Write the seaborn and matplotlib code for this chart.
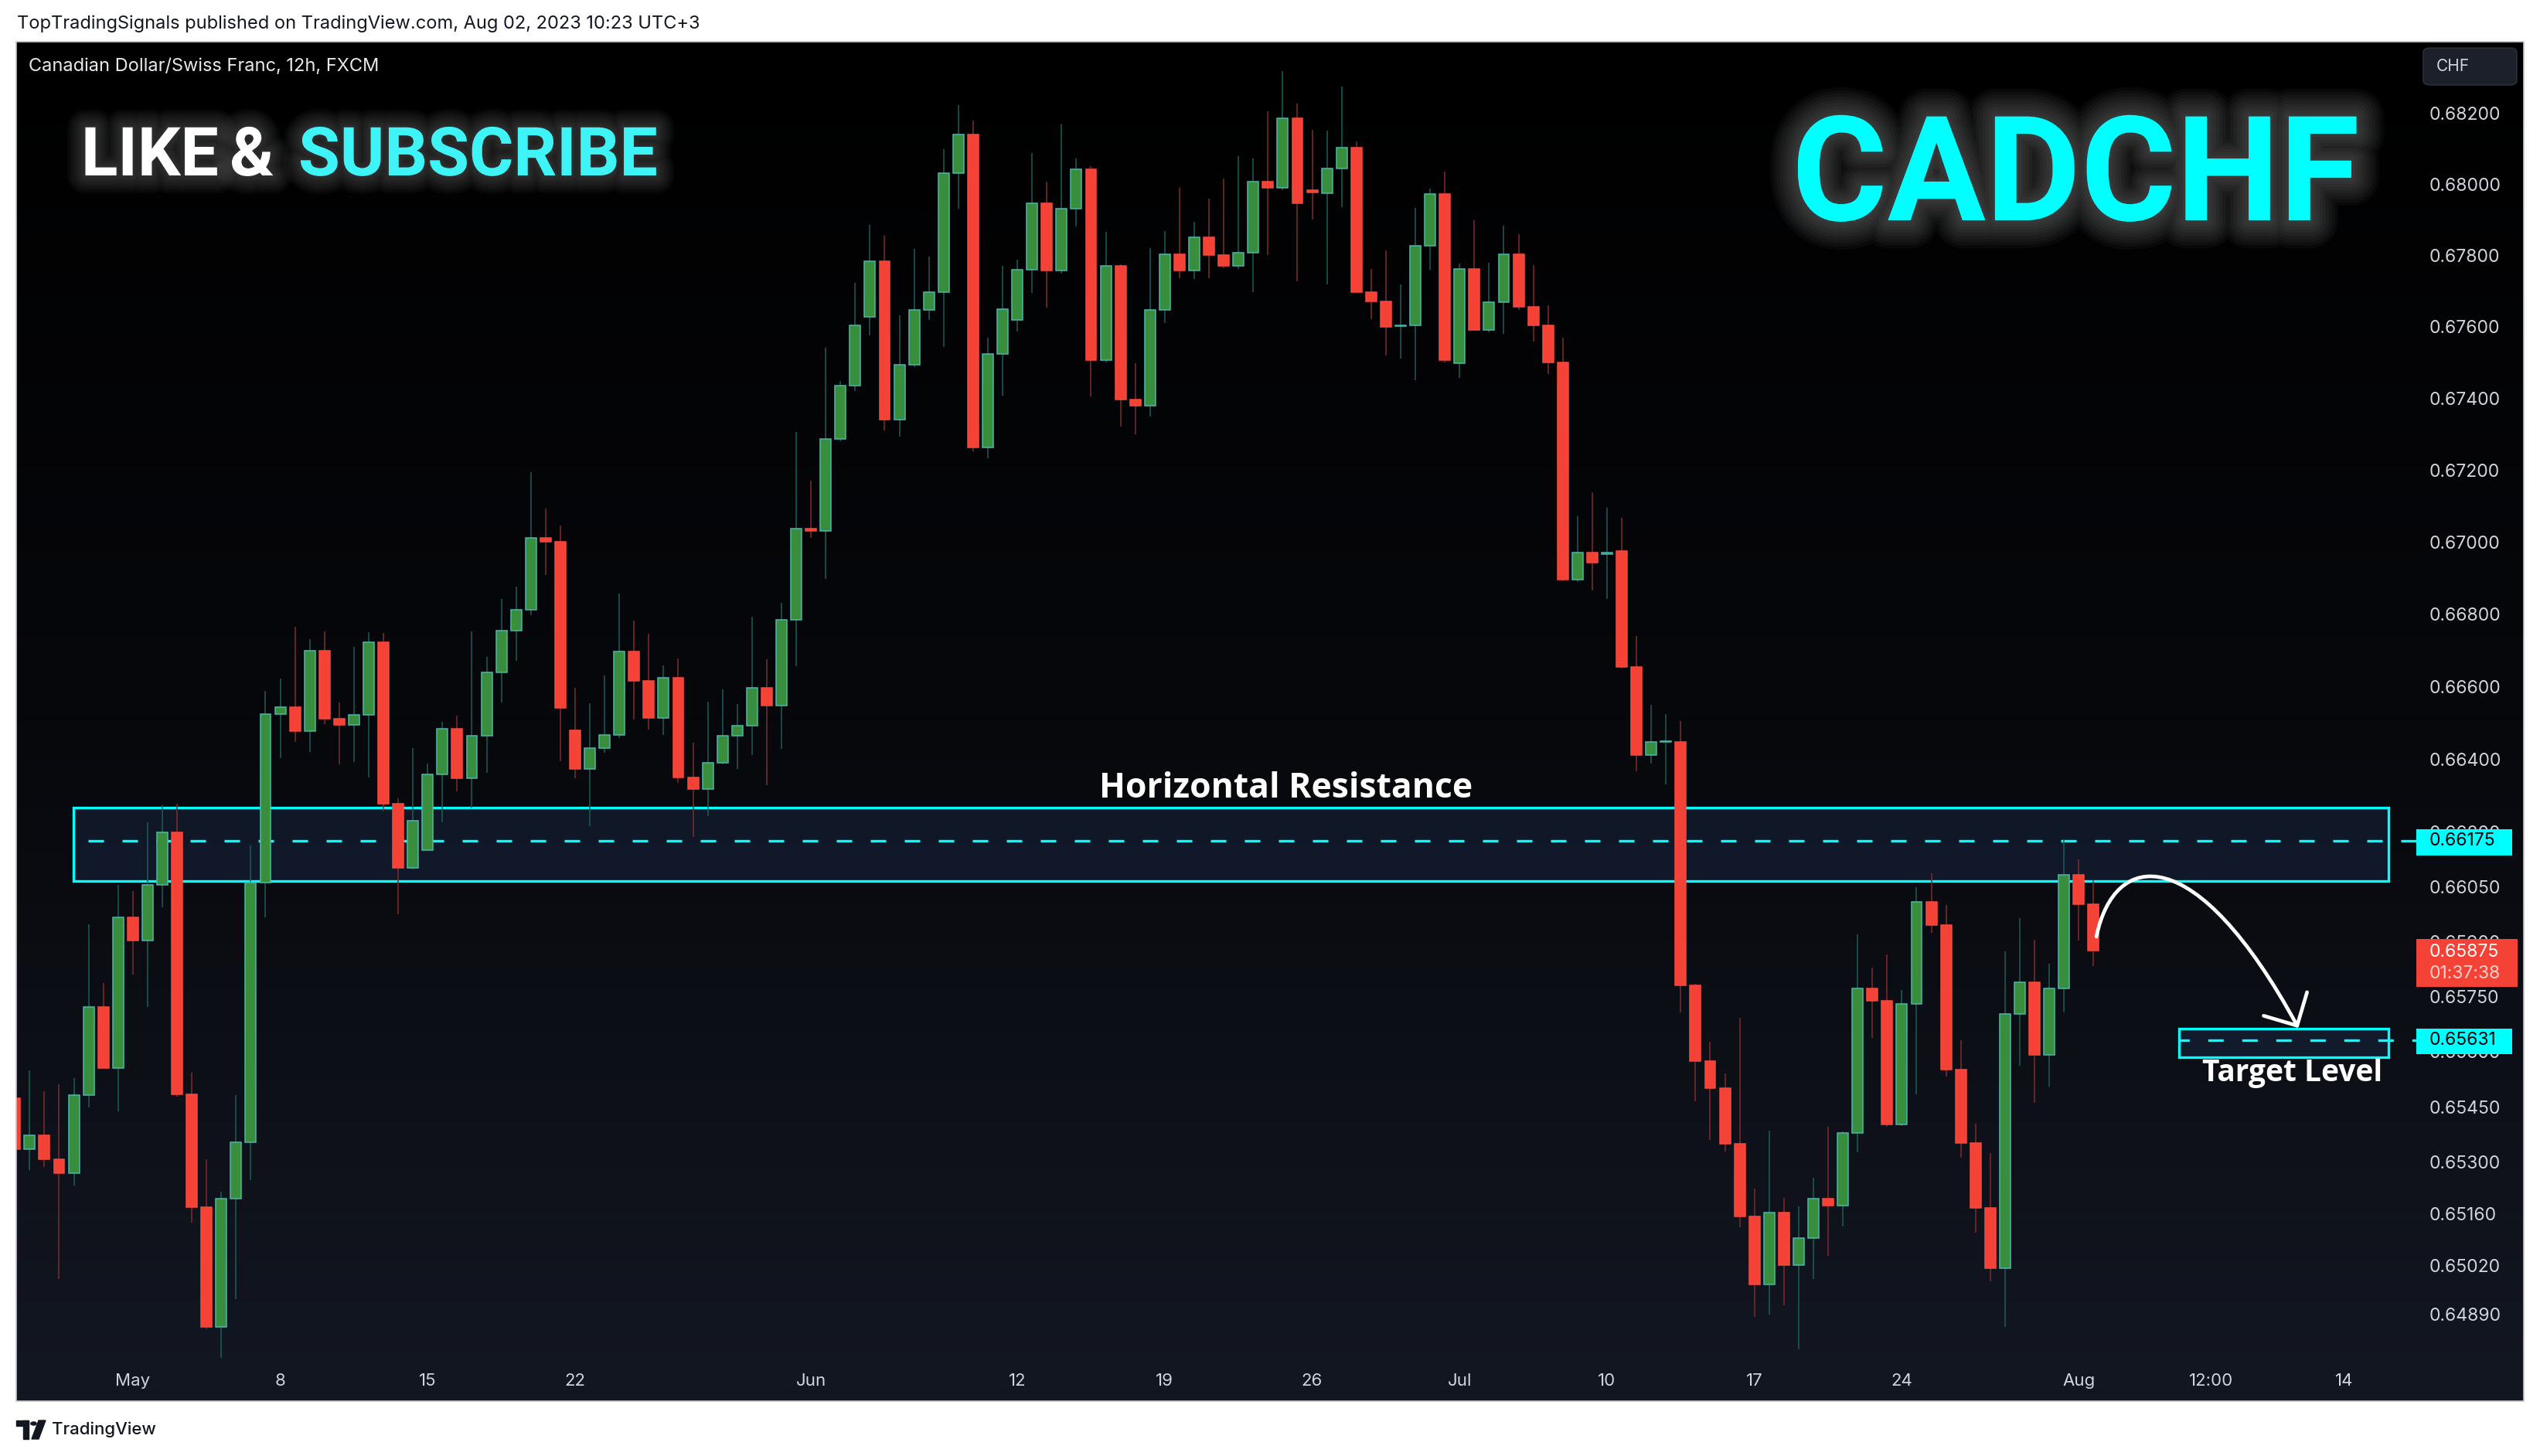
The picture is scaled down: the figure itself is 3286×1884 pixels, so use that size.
import numpy as np
import matplotlib
matplotlib.use("Agg")
import matplotlib.pyplot as plt
import matplotlib.ticker as mticker
import matplotlib.patheffects as pe
from matplotlib.colors import LinearSegmentedColormap
from matplotlib.patches import Rectangle, FancyArrowPatch, FancyBboxPatch, Circle, Polygon
from matplotlib.path import Path
import seaborn as sns

# CADCHF 12h candles (index 0 = Apr 25, index 141 = Aug 1 12:00)
opens = [0.65473, 0.65334, 0.65373, 0.65308, 0.65270, 0.65482, 0.65720, 0.65556, 0.65966, 0.65903,
         0.66054, 0.66198, 0.65484, 0.65178, 0.64856, 0.65201, 0.65354, 0.66061, 0.66524, 0.66543,
         0.66476, 0.66698, 0.66510, 0.66493, 0.66521, 0.66722, 0.66278, 0.66101, 0.66149, 0.66358,
         0.66483, 0.66348, 0.66465, 0.66638, 0.66754, 0.66813, 0.67012, 0.67000, 0.66479, 0.66372,
         0.66430, 0.66466, 0.66696, 0.66616, 0.66514, 0.66624, 0.66350, 0.66318, 0.66389, 0.66465,
         0.66491, 0.66597, 0.66548, 0.66784, 0.67038, 0.67030, 0.67286, 0.67435, 0.67628, 0.67785,
         0.67340, 0.67493, 0.67648, 0.67698, 0.68033, 0.68140, 0.67262, 0.67523, 0.67619, 0.67760,
         0.67946, 0.67757, 0.67931, 0.68042, 0.67507, 0.67770, 0.67396, 0.67379, 0.67647, 0.67803,
         0.67759, 0.67851, 0.67801, 0.67770, 0.67807, 0.68007, 0.67991, 0.68186, 0.67984, 0.67976,
         0.68046, 0.68105, 0.67698, 0.67672, 0.67601, 0.67605, 0.67827, 0.67973, 0.67497, 0.67763,
         0.67591, 0.67668, 0.67803, 0.67657, 0.67605, 0.67500, 0.66896, 0.66971, 0.66966, 0.66974,
         0.66653, 0.66411, 0.66446, 0.66448, 0.65779, 0.65574, 0.65500, 0.65349, 0.65153, 0.64970,
         0.65164, 0.65022, 0.65094, 0.65201, 0.65182, 0.65378, 0.65771, 0.65737, 0.65402, 0.65730,
         0.66007, 0.65944, 0.65550, 0.65351, 0.65175, 0.65014, 0.65702, 0.65788, 0.65590, 0.65772,
         0.66082, 0.66002]
highs = [0.65496, 0.65549, 0.65492, 0.65510, 0.65528, 0.65947, 0.65786, 0.66055, 0.66038, 0.66226,
         0.66273, 0.66277, 0.65542, 0.65308, 0.65220, 0.65482, 0.66162, 0.66588, 0.66622, 0.66765,
         0.66731, 0.66752, 0.66556, 0.66710, 0.66750, 0.66748, 0.66292, 0.66430, 0.66388, 0.66503,
         0.66520, 0.66752, 0.66682, 0.66842, 0.66876, 0.67194, 0.67093, 0.67046, 0.66596, 0.66554,
         0.66631, 0.66857, 0.66782, 0.66746, 0.66659, 0.66678, 0.66445, 0.66558, 0.66591, 0.66551,
         0.66793, 0.66676, 0.66831, 0.67305, 0.67171, 0.67541, 0.67448, 0.67724, 0.67886, 0.67856,
         0.67632, 0.67819, 0.67797, 0.68100, 0.68224, 0.68181, 0.67569, 0.67771, 0.67789, 0.68089,
         0.68008, 0.68169, 0.68073, 0.68052, 0.67867, 0.67775, 0.67498, 0.67821, 0.67869, 0.67991,
         0.67895, 0.67960, 0.68017, 0.68080, 0.68073, 0.68207, 0.68320, 0.68228, 0.68154, 0.68152,
         0.68276, 0.68121, 0.67762, 0.67814, 0.67719, 0.67934, 0.67989, 0.68037, 0.67777, 0.67899,
         0.67779, 0.67883, 0.67860, 0.67774, 0.67661, 0.67570, 0.67071, 0.67137, 0.67094, 0.67066,
         0.66740, 0.66549, 0.66523, 0.66505, 0.65785, 0.65627, 0.65540, 0.65692, 0.65228, 0.65385,
         0.65204, 0.65181, 0.65258, 0.65395, 0.65383, 0.65920, 0.65828, 0.65865, 0.65768, 0.66048,
         0.66087, 0.65999, 0.65631, 0.65404, 0.65324, 0.65873, 0.65964, 0.65904, 0.65839, 0.66179,
         0.66124, 0.66067]
lows = [0.65308, 0.65278, 0.65286, 0.64985, 0.65237, 0.65449, 0.65553, 0.65438, 0.65809, 0.65720,
        0.65993, 0.65478, 0.65137, 0.64850, 0.64772, 0.64930, 0.65252, 0.65965, 0.66403, 0.66447,
        0.66420, 0.66497, 0.66386, 0.66391, 0.66350, 0.66255, 0.65975, 0.66096, 0.66149, 0.66225,
        0.66312, 0.66265, 0.66361, 0.66556, 0.66670, 0.66796, 0.66909, 0.66394, 0.66348, 0.66216,
        0.66418, 0.66457, 0.66508, 0.66482, 0.66467, 0.66335, 0.66185, 0.66244, 0.66385, 0.66373,
        0.66410, 0.66327, 0.66428, 0.66655, 0.67012, 0.66897, 0.67280, 0.67421, 0.67575, 0.67311,
        0.67292, 0.67488, 0.67620, 0.67543, 0.67931, 0.67252, 0.67232, 0.67408, 0.67586, 0.67696,
        0.67653, 0.67750, 0.67882, 0.67406, 0.67500, 0.67322, 0.67300, 0.67350, 0.67611, 0.67737,
        0.67735, 0.67737, 0.67765, 0.67763, 0.67698, 0.67802, 0.67985, 0.67728, 0.67902, 0.67718,
        0.67937, 0.67695, 0.67622, 0.67520, 0.67510, 0.67450, 0.67760, 0.67501, 0.67458, 0.67588,
        0.67584, 0.67581, 0.67647, 0.67559, 0.67467, 0.66891, 0.66890, 0.66865, 0.66841, 0.66650,
        0.66367, 0.66387, 0.66331, 0.65706, 0.65464, 0.65360, 0.65329, 0.65124, 0.64882, 0.64888,
        0.64913, 0.64796, 0.64985, 0.65047, 0.65125, 0.65326, 0.65637, 0.65395, 0.65398, 0.65484,
        0.65923, 0.65532, 0.65312, 0.65109, 0.64978, 0.64855, 0.65562, 0.65461, 0.65505, 0.65707,
        0.65902, 0.65832]
closes = [0.65334, 0.65373, 0.65308, 0.65270, 0.65482, 0.65720, 0.65556, 0.65966, 0.65903, 0.66054,
          0.66198, 0.65484, 0.65178, 0.64856, 0.65201, 0.65354, 0.66061, 0.66524, 0.66543, 0.66476,
          0.66698, 0.66510, 0.66493, 0.66521, 0.66722, 0.66278, 0.66101, 0.66231, 0.66358, 0.66483,
          0.66348, 0.66465, 0.66638, 0.66754, 0.66813, 0.67012, 0.67000, 0.66540, 0.66372, 0.66430,
          0.66466, 0.66696, 0.66616, 0.66514, 0.66624, 0.66350, 0.66318, 0.66389, 0.66465, 0.66491,
          0.66597, 0.66548, 0.66784, 0.67038, 0.67030, 0.67286, 0.67435, 0.67605, 0.67785, 0.67340,
          0.67493, 0.67648, 0.67698, 0.68033, 0.68140, 0.67262, 0.67523, 0.67650, 0.67760, 0.67946,
          0.67757, 0.67931, 0.68042, 0.67507, 0.67770, 0.67396, 0.67379, 0.67647, 0.67803, 0.67759,
          0.67851, 0.67801, 0.67770, 0.67807, 0.68007, 0.67991, 0.68186, 0.67948, 0.67978, 0.68046,
          0.68105, 0.67698, 0.67672, 0.67599, 0.67605, 0.67827, 0.67973, 0.67506, 0.67763, 0.67591,
          0.67668, 0.67803, 0.67657, 0.67605, 0.67500, 0.66896, 0.66971, 0.66943, 0.66970, 0.66653,
          0.66411, 0.66448, 0.66449, 0.65779, 0.65574, 0.65500, 0.65349, 0.65153, 0.64970, 0.65164,
          0.65022, 0.65094, 0.65201, 0.65182, 0.65378, 0.65771, 0.65737, 0.65402, 0.65730, 0.66007,
          0.65944, 0.65550, 0.65351, 0.65175, 0.65014, 0.65702, 0.65788, 0.65590, 0.65772, 0.66082,
          0.66002, 0.65875]

date_pos = [8, 18, 28, 38, 54, 68, 78, 88, 98, 108, 118, 128, 140, 149, 158]
date_labels = ["May", "8", "15", "22", "Jun", "12", "19", "26", "Jul", "10", "17", "24", "Aug", "12:00", "14"]
price_ticks = [0.682, 0.680, 0.678, 0.676, 0.674, 0.672, 0.670, 0.668, 0.666, 0.664, 0.662,
               0.6605, 0.659, 0.6575, 0.656, 0.6545, 0.653, 0.6516, 0.6502, 0.6489]

resistance = 0.66175
res_top, res_bot = 0.66267, 0.66065
target = 0.65631
tgt_top, tgt_bot = 0.65662, 0.65584
last_price = 0.65875

W, H = 3286, 1884
CYAN = "#00ffff"

sns.set_theme(style="dark")
plt.rcParams["font.family"] = ["Inter", "DejaVu Sans"]
BIG = ["Roboto", "DejaVu Sans"]


def fx(x):
    return x / W


def fy(y):
    return 1 - y / H


fig = plt.figure(figsize=(W / 100, H / 100), dpi=100, facecolor="white")

# dark pane with vertical gradient
bg = fig.add_axes([fx(21), fy(1813), fx(3265) - fx(21), fy(54) - fy(1813)])
cmap = LinearSegmentedColormap.from_list("pane", ["#000000", "#07080c", "#131722"])
bg.imshow(np.linspace(0, 1, 400).reshape(-1, 1), cmap=cmap, aspect="auto")
bg.axis("off")

ax = fig.add_axes([fx(21), fy(1760), fx(3126) - fx(21), fy(54) - fy(1760)])
ax.set_facecolor("none")
ax.set_yscale("log")
ax.grid(False)
for s in ax.spines.values():
    s.set_visible(False)

x = np.arange(len(opens))
o, h, l, c = map(np.array, (opens, highs, lows, closes))
up = c >= o
body_lo = np.minimum(o, c)
body_h = np.maximum(np.abs(c - o), 0.00003)

ax.vlines(x[up], l[up], h[up], color="#1b5e58", lw=1.1, zorder=3)
ax.vlines(x[~up], l[~up], h[~up], color="#7e2c2c", lw=1.1, zorder=3)
ax.bar(x[up], body_h[up], bottom=body_lo[up], width=0.73, color="#388e3c",
       edgecolor="#4db6ac", linewidth=1.1, zorder=4)
ax.bar(x[~up], body_h[~up], bottom=body_lo[~up], width=0.73, color="#f44336",
       edgecolor="#f6493c", linewidth=1.1, zorder=4)

x_end = 162.9
ax.set_xlim(0.09, x_end)
ax.set_ylim(0.647661, 0.684034)

# resistance zone
ax.add_patch(Rectangle((3.97, res_bot), 161.0 - 3.97, res_top - res_bot, facecolor="#1a2a48",
                       alpha=0.45, edgecolor="none", zorder=1))
ax.add_patch(Rectangle((3.97, res_bot), 161.0 - 3.97, res_top - res_bot, fill=False,
                       edgecolor=CYAN, lw=2.4, zorder=2))
ax.plot([3.97, x_end], [resistance, resistance], color=CYAN, lw=2.4, ls=(7.5, (6, 7.2)), zorder=2)
ax.text(86.2, 0.66318, "Horizontal Resistance", ha="center", va="center", color="white",
        fontsize=32, fontweight="bold", family=["Open Sans", "DejaVu Sans"], zorder=6)

# target zone
ax.add_patch(Rectangle((146.8, tgt_bot), 161.0 - 146.8, tgt_top - tgt_bot, facecolor="#1a2a48",
                       alpha=0.45, edgecolor="none", zorder=1))
ax.add_patch(Rectangle((146.8, tgt_bot), 161.0 - 146.8, tgt_top - tgt_bot, fill=False,
                       edgecolor=CYAN, lw=2.4, zorder=2))
ax.plot([146.8, x_end], [target, target], color=CYAN, lw=2.4, ls=(2, (6, 7.2)), zorder=2)
ax.text(154.5, 0.65542, "Target Level", ha="center", va="center", color="white",
        fontsize=28, fontweight="bold", family=["Open Sans", "DejaVu Sans"], zorder=6)

# projected move arrow
arc = Path([(141.2, 0.65913), (142.4, 0.66150), (147.9, 0.66182), (154.9, 0.65664)],
           [Path.MOVETO, Path.CURVE4, Path.CURVE4, Path.CURVE4])
ax.add_patch(FancyArrowPatch(path=arc, arrowstyle="->,head_length=23,head_width=23",
                             mutation_scale=1, color="white", lw=3.4, zorder=7,
                             capstyle="round", joinstyle="round"))

# axes ticks
ax.set_xticks(date_pos, date_labels)
ax.tick_params(axis="x", length=0, pad=12, labelsize=16, labelcolor="#d1d4dc")
ax.yaxis.tick_right()
ax.yaxis.set_major_locator(mticker.FixedLocator(price_ticks))
ax.yaxis.set_major_formatter(mticker.FixedFormatter([f"{t:.5f}" for t in price_ticks]))
ax.yaxis.set_minor_locator(mticker.NullLocator())
ax.tick_params(axis="y", which="both", length=0, pad=12, labelsize=16.5, labelcolor="#d1d4dc")

# price scale labels
yt = ax.get_yaxis_transform()
aw = 3126 - 21
for price, top, bot in [(resistance, 0.66207, 0.66135), (target, 0.65662, 0.65593)]:
    ax.add_patch(Rectangle((1.0, bot), 124 / aw, top - bot, transform=yt, facecolor=CYAN,
                           edgecolor="none", clip_on=False, zorder=8))
    ax.text(1.0 + 17 / aw, price, f"{price:.5f}", transform=yt, ha="left", va="center",
            fontsize=16.5, color="black", zorder=9, clip_on=False)
ax.add_patch(Rectangle((1.0, 0.65776), 131 / aw, 0.65907 - 0.65776, transform=yt,
                       facecolor="#f44336", edgecolor="none", clip_on=False, zorder=8))
ax.text(1.0 + 17 / aw, 0.65870, f"{last_price:.5f}", transform=yt, ha="left", va="center",
        fontsize=16.5, color="white", zorder=9, clip_on=False)
ax.text(1.0 + 17 / aw, 0.65811, "01:37:38", transform=yt, ha="left", va="center",
        fontsize=16.5, color="#ffd2cd", zorder=9, clip_on=False)


# headline texts with a soft grey glow
def glow(max_w, steps, alpha):
    widths = np.linspace(max_w, max_w / steps, steps)
    return [pe.Stroke(linewidth=w, foreground="#9a9a9a", alpha=alpha) for w in widths] + [pe.Normal()]


halo_small = glow(34, 8, 0.045)
fig.text(fx(105), fy(227), "LIKE", ha="left", va="baseline", color="white",
         fontsize=63, fontweight="bold", family=BIG, path_effects=halo_small)
fig.text(fx(297), fy(227), "&", ha="left", va="baseline", color="white",
         fontsize=63, fontweight="bold", family=BIG, path_effects=halo_small)
fig.text(fx(386), fy(227), "SUBSCRIBE", ha="left", va="baseline", color="#3ff4f6",
         fontsize=63, fontweight="bold", family=BIG, path_effects=halo_small)
fig.text(fx(2318), fy(285), "CADCHF", ha="left", va="baseline", color=CYAN,
         fontsize=136, fontweight="bold", family=BIG, path_effects=glow(52, 9, 0.05))

fig.text(fx(37), fy(86), "Canadian Dollar/Swiss Franc, 12h, FXCM", ha="left", va="center",
         color="#e8e9ec", fontsize=17)

# currency button
fig.add_artist(FancyBboxPatch((fx(3135), fy(110)), fx(3256) - fx(3135), fy(62) - fy(110),
                              boxstyle="round,pad=0,rounding_size=0.003", transform=fig.transFigure,
                              facecolor="#1c202a", edgecolor="#2f3340", lw=1))
fig.text(fx(3152), fy(86), "CHF", ha="left", va="center", color="#d1d4dc", fontsize=15)

# frame around the pane
fig.add_artist(Rectangle((fx(21), fy(1813)), fx(3265) - fx(21), fy(54) - fy(1813),
                         transform=fig.transFigure, fill=False, edgecolor="#c3c6cd", lw=1.2))

# header and footer
fig.text(fx(22), fy(31), "TopTradingSignals published on TradingView.com, Aug 02, 2023 10:23 UTC+3",
         ha="left", va="center", color="#131722", fontsize=17)
logo = "#131722"
fig.add_artist(Rectangle((fx(21), fy(1845)), fx(37) - fx(21), fy(1838) - fy(1845),
                         transform=fig.transFigure, color=logo))
fig.add_artist(Rectangle((fx(30), fy(1862)), fx(37) - fx(30), fy(1838) - fy(1862),
                         transform=fig.transFigure, color=logo))
fig.add_artist(Circle((fx(43.5), fy(1842)), 3.6 / W, transform=fig.transFigure, color=logo))
fig.add_artist(Polygon([(fx(41), fy(1862)), (fx(50), fy(1838)), (fx(59), fy(1838)), (fx(50), fy(1862))],
                       closed=True, transform=fig.transFigure, color=logo))
fig.text(fx(67), fy(1850), "TradingView", ha="left", va="center", color=logo, fontsize=16,
         fontweight="medium")

fig.savefig("out.png", dpi=100, facecolor="white")
